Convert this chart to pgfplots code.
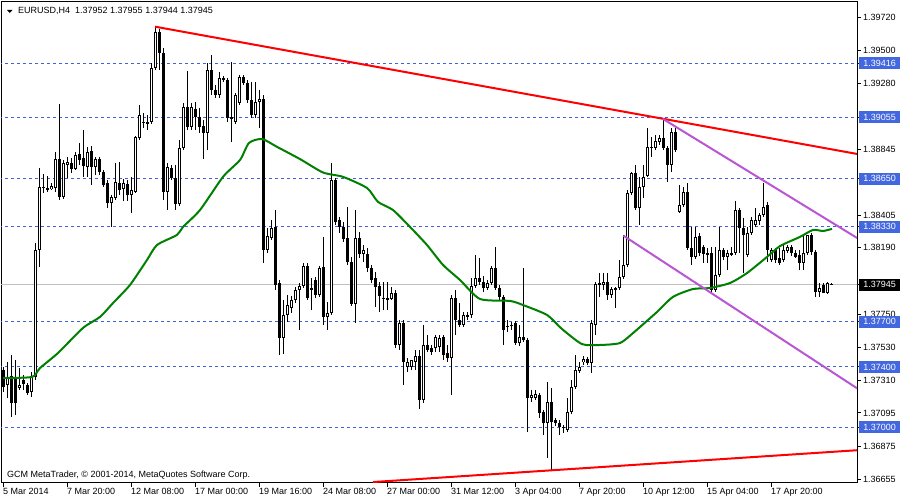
\documentclass[border=0pt]{standalone}
\usepackage{pgfplots}
\pgfplotsset{compat=1.18}
\usepackage{pgfplotstable}
\usepackage{fontspec}
\setmainfont{Liberation Sans}
\definecolor{hl}{RGB}{64,96,222}
\definecolor{hlbox}{RGB}{66,103,222}
\definecolor{ma}{RGB}{0,128,0}
\definecolor{orch}{RGB}{186,85,211}
\definecolor{silv}{RGB}{192,192,192}

\pgfplotstableread{
i o h l c
0 1.37380 1.37400 1.37235 1.37268
1 1.37281 1.37433 1.37195 1.37334
2 1.37340 1.37480 1.37069 1.37161
3 1.37334 1.37446 1.37082 1.37161
4 1.37261 1.37393 1.37248 1.37281
5 1.37314 1.37347 1.37248 1.37287
6 1.37281 1.37294 1.37215 1.37228
7 1.37235 1.37367 1.37202 1.37334
8 1.37334 1.38222 1.37314 1.38176
9 1.38176 1.38720 1.38064 1.38594
10 1.38594 1.38680 1.38554 1.38587
11 1.38580 1.38667 1.38561 1.38587
12 1.38580 1.38620 1.38574 1.38600
13 1.38587 1.38826 1.38561 1.38779
14 1.38779 1.39144 1.38508 1.38528
15 1.38528 1.38773 1.38514 1.38753
16 1.38740 1.38793 1.38654 1.38760
17 1.38753 1.38786 1.38687 1.38713
18 1.38713 1.38826 1.38707 1.38806
19 1.38812 1.38886 1.38740 1.38773
20 1.38786 1.38972 1.38661 1.38733
21 1.38727 1.38860 1.38661 1.38826
22 1.38832 1.38866 1.38607 1.38727
23 1.38727 1.38793 1.38674 1.38779
24 1.38779 1.38793 1.38674 1.38694
25 1.38694 1.38707 1.38594 1.38607
26 1.38620 1.38640 1.38455 1.38488
27 1.38488 1.38541 1.38329 1.38528
28 1.38521 1.38753 1.38508 1.38627
29 1.38620 1.38760 1.38541 1.38574
30 1.38580 1.38647 1.38501 1.38620
31 1.38613 1.38640 1.38501 1.38541
32 1.38541 1.38661 1.38421 1.38574
33 1.38561 1.38932 1.38554 1.38926
34 1.38919 1.39138 1.38906 1.39071
35 1.39018 1.39084 1.38985 1.39025
36 1.39025 1.39071 1.38972 1.39011
37 1.39025 1.39416 1.39011 1.39383
38 1.39383 1.39655 1.39370 1.39622
39 1.39622 1.39641 1.39370 1.39482
40 1.39482 1.39516 1.38508 1.38561
41 1.38561 1.38753 1.38441 1.38727
42 1.38720 1.38740 1.38640 1.38654
43 1.38654 1.38740 1.38441 1.38481
44 1.38481 1.38906 1.38468 1.38853
45 1.38853 1.39151 1.38839 1.39125
46 1.39125 1.39363 1.38972 1.38992
47 1.38992 1.39151 1.38972 1.39125
48 1.39111 1.39158 1.38972 1.39058
49 1.39058 1.39118 1.38952 1.38992
50 1.38998 1.39038 1.38779 1.38952
51 1.38952 1.39416 1.38839 1.39370
52 1.39370 1.39469 1.39204 1.39237
53 1.39237 1.39270 1.39184 1.39204
54 1.39204 1.39357 1.39184 1.39317
55 1.39317 1.39330 1.39290 1.39303
56 1.39303 1.39317 1.39025 1.39051
57 1.39051 1.39423 1.38893 1.39058
58 1.39025 1.39217 1.39011 1.39204
59 1.39151 1.39337 1.39138 1.39324
60 1.39324 1.39337 1.39270 1.39283
61 1.39283 1.39303 1.39151 1.39171
62 1.39171 1.39290 1.39051 1.39071
63 1.39071 1.39290 1.39051 1.39158
64 1.39158 1.39237 1.38985 1.39177
65 1.39177 1.39204 1.38090 1.38176
66 1.38176 1.38322 1.38156 1.38269
67 1.38256 1.38375 1.38242 1.38322
68 1.38329 1.38441 1.37911 1.37944
69 1.37957 1.37977 1.37480 1.37592
70 1.37592 1.37844 1.37486 1.37745
71 1.37745 1.37878 1.37699 1.37811
72 1.37791 1.37871 1.37758 1.37844
73 1.37844 1.37931 1.37824 1.37911
74 1.37911 1.37957 1.37645 1.37937
75 1.37937 1.38090 1.37924 1.38070
76 1.38070 1.38090 1.37844 1.37858
77 1.37924 1.37990 1.37778 1.37917
78 1.37977 1.37997 1.37858 1.37878
79 1.37878 1.38070 1.37865 1.38057
80 1.38064 1.38263 1.37679 1.37732
81 1.37732 1.37831 1.37645 1.37758
82 1.37758 1.38753 1.37745 1.38640
83 1.38640 1.38654 1.38342 1.38362
84 1.38375 1.38395 1.38289 1.38329
85 1.38329 1.38362 1.38229 1.38249
86 1.38256 1.38462 1.38077 1.38097
87 1.38097 1.38130 1.37804 1.37817
88 1.37817 1.38441 1.37692 1.38256
89 1.38256 1.38296 1.38123 1.38149
90 1.38149 1.38209 1.38097 1.38176
91 1.38149 1.38189 1.38030 1.38057
92 1.38057 1.38077 1.37957 1.37977
93 1.37990 1.38030 1.37798 1.37931
94 1.37937 1.37964 1.37765 1.37871
95 1.37851 1.37964 1.37778 1.37858
96 1.37858 1.37964 1.37778 1.37844
97 1.37851 1.37931 1.37844 1.37891
98 1.37891 1.37911 1.37526 1.37546
99 1.37546 1.37712 1.37513 1.37692
100 1.37692 1.37712 1.37281 1.37433
101 1.37400 1.37460 1.37367 1.37433
102 1.37400 1.37446 1.37380 1.37446
103 1.37433 1.37513 1.37380 1.37473
104 1.37473 1.37513 1.37121 1.37181
105 1.37181 1.37679 1.37161 1.37546
106 1.37546 1.37612 1.37500 1.37513
107 1.37526 1.37546 1.37480 1.37500
108 1.37526 1.37612 1.37500 1.37599
109 1.37533 1.37612 1.37500 1.37592
110 1.37599 1.37612 1.37446 1.37480
111 1.37493 1.37546 1.37433 1.37460
112 1.37460 1.37878 1.37215 1.37858
113 1.37858 1.37911 1.37612 1.37712
114 1.37712 1.37824 1.37666 1.37679
115 1.37679 1.37765 1.37666 1.37745
116 1.37732 1.37765 1.37712 1.37745
117 1.37745 1.37990 1.37725 1.37937
118 1.37937 1.38143 1.37924 1.37990
119 1.37990 1.38123 1.37944 1.37964
120 1.37964 1.38003 1.37898 1.37924
121 1.37924 1.37977 1.37911 1.37957
122 1.37957 1.38070 1.37944 1.38057
123 1.38057 1.38196 1.37911 1.37924
124 1.37924 1.37944 1.37844 1.37865
125 1.37865 1.37878 1.37546 1.37645
126 1.37666 1.37712 1.37632 1.37672
127 1.37672 1.37699 1.37645 1.37679
128 1.37692 1.37705 1.37546 1.37559
129 1.37559 1.37679 1.37539 1.37599
130 1.37599 1.38057 1.37566 1.37579
131 1.37579 1.37592 1.36969 1.37195
132 1.37195 1.37248 1.37168 1.37215
133 1.37195 1.37248 1.37181 1.37221
134 1.37215 1.37228 1.37062 1.37095
135 1.37102 1.37115 1.36949 1.37029
136 1.37029 1.37301 1.36797 1.37168
137 1.37168 1.37261 1.36717 1.37036
138 1.37049 1.37062 1.37009 1.37029
139 1.37029 1.37049 1.36949 1.37003
140 1.36996 1.37016 1.36962 1.37003
141 1.36982 1.37195 1.36969 1.37102
142 1.37102 1.37314 1.37088 1.37268
143 1.37268 1.37480 1.37254 1.37380
144 1.37373 1.37433 1.37360 1.37400
145 1.37433 1.37473 1.37413 1.37453
146 1.37453 1.37466 1.37413 1.37426
147 1.37426 1.37712 1.37360 1.37692
148 1.37679 1.37964 1.37612 1.37950
149 1.37944 1.38023 1.37865 1.37957
150 1.37944 1.38023 1.37911 1.37964
151 1.37964 1.38023 1.37844 1.37878
152 1.37878 1.37931 1.37858 1.37917
153 1.37924 1.37931 1.37791 1.37911
154 1.37924 1.38110 1.37911 1.37997
155 1.37997 1.38276 1.37984 1.38077
156 1.38077 1.38574 1.38064 1.38554
157 1.38554 1.38694 1.38541 1.38687
158 1.38687 1.38740 1.38441 1.38455
159 1.38455 1.38661 1.38342 1.38594
160 1.38594 1.38740 1.38521 1.38661
161 1.38667 1.38985 1.38661 1.38860
162 1.38853 1.38926 1.38793 1.38860
163 1.38853 1.38939 1.38839 1.38899
164 1.38893 1.38939 1.38873 1.38919
165 1.38919 1.39051 1.38839 1.38853
166 1.38853 1.38866 1.38627 1.38740
167 1.38740 1.38985 1.38694 1.38959
168 1.38959 1.38985 1.38826 1.38839
169 1.38428 1.38607 1.38421 1.38475
170 1.38475 1.38594 1.38462 1.38561
171 1.38561 1.38620 1.38176 1.38189
172 1.38189 1.38329 1.38077 1.38130
173 1.38130 1.38329 1.38116 1.38263
174 1.38269 1.38289 1.38136 1.38156
175 1.38196 1.38209 1.38090 1.38149
176 1.38156 1.38189 1.38090 1.38149
177 1.38156 1.38196 1.37898 1.37911
178 1.37911 1.38196 1.37898 1.38010
179 1.38010 1.38329 1.37997 1.38176
180 1.38176 1.38189 1.38110 1.38130
181 1.38130 1.38176 1.38043 1.38156
182 1.38149 1.38196 1.38136 1.38156
183 1.38156 1.38501 1.38143 1.38441
184 1.38441 1.38455 1.38156 1.38322
185 1.38322 1.38388 1.38023 1.38276
186 1.38143 1.38329 1.38130 1.38289
187 1.38289 1.38395 1.38276 1.38375
188 1.38342 1.38455 1.38329 1.38375
189 1.38368 1.38421 1.38342 1.38408
190 1.38408 1.38620 1.38395 1.38462
191 1.38475 1.38495 1.38097 1.38176
192 1.38110 1.38189 1.38097 1.38176
193 1.38176 1.38189 1.38090 1.38110
194 1.38123 1.38189 1.38077 1.38090
195 1.38110 1.38209 1.38097 1.38176
196 1.38169 1.38209 1.38156 1.38196
197 1.38196 1.38209 1.38136 1.38156
198 1.38156 1.38176 1.38123 1.38130
199 1.38143 1.38176 1.38043 1.38090
200 1.38090 1.38276 1.38043 1.38156
201 1.38156 1.38276 1.38143 1.38276
202 1.38276 1.38289 1.38143 1.38163
203 1.38163 1.38176 1.37865 1.37898
204 1.37898 1.37957 1.37865 1.37924
205 1.37944 1.37957 1.37891 1.37891
206 1.37891 1.37964 1.37884 1.37957
207 1.37952 1.37955 1.37944 1.37945
}\candles

\pgfplotstableread{
x y
0 1.37327
7.25 1.37334
9.25 1.37393
13.75 1.37493
20 1.37659
24.25 1.37732
27.5 1.37824
31.75 1.37944
36 1.38110
38.5 1.38209
43.5 1.38276
45 1.38329
49.25 1.38441
55 1.38661
59.25 1.38773
61.5 1.38886
64.75 1.38912
68.5 1.38860
74.25 1.38779
80 1.38690
85 1.38661
91 1.38587
93.75 1.38495
97.5 1.38441
101.75 1.38329
106 1.38209
110 1.38077
114.25 1.37977
119.25 1.37851
126.75 1.37838
130 1.37811
136 1.37745
139.75 1.37652
144.75 1.37552
149.25 1.37546
154.25 1.37559
157.5 1.37625
161.25 1.37712
163.5 1.37765
167.5 1.37865
172.5 1.37917
176.75 1.37924
181.75 1.37957
186 1.38023
191 1.38130
194.25 1.38202
199.25 1.38263
202.5 1.38309
205 1.38302
207.25 1.38316
}\matable

\begin{document}
\begin{tikzpicture}
\fill[white] (0pt,0pt) rectangle (900pt,500pt);
\path[use as bounding box] (0pt,0pt) rectangle (900pt,500pt);
\begin{axis}[
  at={(1pt,17pt)}, anchor=south west,
  width=856pt, height=481pt, scale only axis,
  xmin=-0.5, xmax=213.5, ymin=1.366307, ymax=1.398207,
  axis line style={black, line width=1pt},
  ytick pos=right, yticklabel pos=right,
  xtick pos=bottom, xticklabel pos=bottom,
  ytick={1.39720,1.39500,1.39280,1.38845,1.38405,1.38190,1.37750,1.37530,1.37310,1.37095,1.36875,1.36655},
  yticklabels={1.39720,1.39500,1.39280,1.38845,1.38405,1.38190,1.37750,1.37530,1.37310,1.37095,1.36875,1.36655},
  extra y ticks={1.39416,1.39055,1.38650,1.38330,1.37945,1.37700,1.37400,1.37000},
  extra y tick labels={},
  xtick={0,16,32,48,64,80,96,112,128,144,160,176,192},
  xticklabels={5 Mar 2014,7 Mar 20:00,12 Mar 08:00,17 Mar 00:00,19 Mar 16:00,24 Mar 08:00,27 Mar 00:00,31 Mar 12:00,3 Apr 04:00,7 Apr 20:00,10 Apr 12:00,15 Apr 04:00,17 Apr 20:00},
  tick align=outside,
  major tick length=4pt,
  tick style={black, line width=1pt},
  ticklabel style={font=\fontsize{9}{11}\selectfont, inner sep=0pt, text=black},
  yticklabel style={anchor=west, xshift=2pt},
  xticklabel style={anchor=north west, xshift=0pt, yshift=-1pt},
]
% horizontal levels
\addplot[hl, line width=1pt, dash pattern=on 3pt off 3pt] coordinates {(-1,1.39416) (214,1.39416)};
\addplot[hl, line width=1pt, dash pattern=on 3pt off 3pt] coordinates {(-1,1.39055) (214,1.39055)};
\addplot[hl, line width=1pt, dash pattern=on 3pt off 3pt] coordinates {(-1,1.38650) (214,1.38650)};
\addplot[hl, line width=1pt, dash pattern=on 3pt off 3pt] coordinates {(-1,1.38330) (214,1.38330)};
\addplot[hl, line width=1pt, dash pattern=on 3pt off 3pt] coordinates {(-1,1.37700) (214,1.37700)};
\addplot[hl, line width=1pt, dash pattern=on 3pt off 3pt] coordinates {(-1,1.37400) (214,1.37400)};
\addplot[hl, line width=1pt, dash pattern=on 3pt off 3pt] coordinates {(-1,1.37000) (214,1.37000)};
\addplot[silv, line width=1pt] coordinates {(-1,1.37945) (214,1.37945)};
% wicks
\addplot[draw=none, error bars/.cd, y dir=both, y explicit, error mark=none,
  error bar style={black, line width=1pt}]
  table[x=i, y expr={0.5*(\thisrow{h}+\thisrow{l})}, y error expr={0.5*(\thisrow{h}-\thisrow{l})}] {\candles};
% bodies
\addplot[draw=none, error bars/.cd, y dir=both, y explicit, error mark=none,
  error bar style={black, line width=3pt}]
  table[x=i, y expr={0.5*(\thisrow{o}+\thisrow{c})}, y error expr={max(0.5*abs(\thisrow{o}-\thisrow{c}),0.0000332)}] {\candles};
% hollow interior of rising candles
\addplot[draw=none, error bars/.cd, y dir=both, y explicit, error mark=none,
  error bar style={white, line width=1pt}]
  table[x=i, y expr={(\thisrow{c}-\thisrow{o}>0.00014) ? 0.5*(\thisrow{o}+\thisrow{c}) : nan}, y error expr={0.5*(\thisrow{c}-\thisrow{o})-0.0000663}] {\candles};
% moving average
\addplot[ma, line width=2pt, smooth, tension=0.4] table[x=x, y=y] {\matable};
% trend lines
\addplot[red, line width=2pt] coordinates {(38,1.39657) (213.5,1.38813)};
\addplot[red, line width=2pt] coordinates {(92.5,1.36637) (213.5,1.36848)};
\addplot[orch, line width=2pt] coordinates {(165,1.39045) (213.5,1.38256)};
\addplot[orch, line width=2pt] coordinates {(155.1,1.38271) (213.5,1.37259)};
\coordinate (L1) at (axis cs:213.5,1.39416);
\coordinate (L2) at (axis cs:213.5,1.39055);
\coordinate (L3) at (axis cs:213.5,1.38650);
\coordinate (L4) at (axis cs:213.5,1.38330);
\coordinate (L5) at (axis cs:213.5,1.37700);
\coordinate (L6) at (axis cs:213.5,1.37400);
\coordinate (L7) at (axis cs:213.5,1.37000);
\coordinate (LP) at (axis cs:213.5,1.37945);
\end{axis}
\tikzset{lbox/.style={anchor=west, fill=hlbox, text=white, minimum width=41pt, minimum height=12pt, inner sep=0pt, font=\fontsize{9}{11}\selectfont}}
\node[lbox] at ([xshift=2pt]L1) {1.39416};
\node[lbox] at ([xshift=2pt]L2) {1.39055};
\node[lbox] at ([xshift=2pt]L3) {1.38650};
\node[lbox] at ([xshift=2pt]L4) {1.38330};
\node[lbox] at ([xshift=2pt]L5) {1.37700};
\node[lbox] at ([xshift=2pt]L6) {1.37400};
\node[lbox] at ([xshift=2pt]L7) {1.37000};
\node[lbox, fill=black] at ([xshift=2pt]LP) {1.37945};
\fill[black] (7pt,490pt) -- (12.5pt,490pt) -- (9.75pt,487.2pt) -- cycle;
\node[anchor=west, inner sep=0pt, font=\fontsize{9}{11}\selectfont] at (18pt,489pt) {EURUSD,H4\ \ 1.37952 1.37955 1.37944 1.37945};
\node[anchor=west, inner sep=0pt, font=\fontsize{9}{11}\selectfont] at (7pt,25pt) {GCM MetaTrader, © 2001-2014, MetaQuotes Software Corp.};
\end{tikzpicture}
\end{document}
